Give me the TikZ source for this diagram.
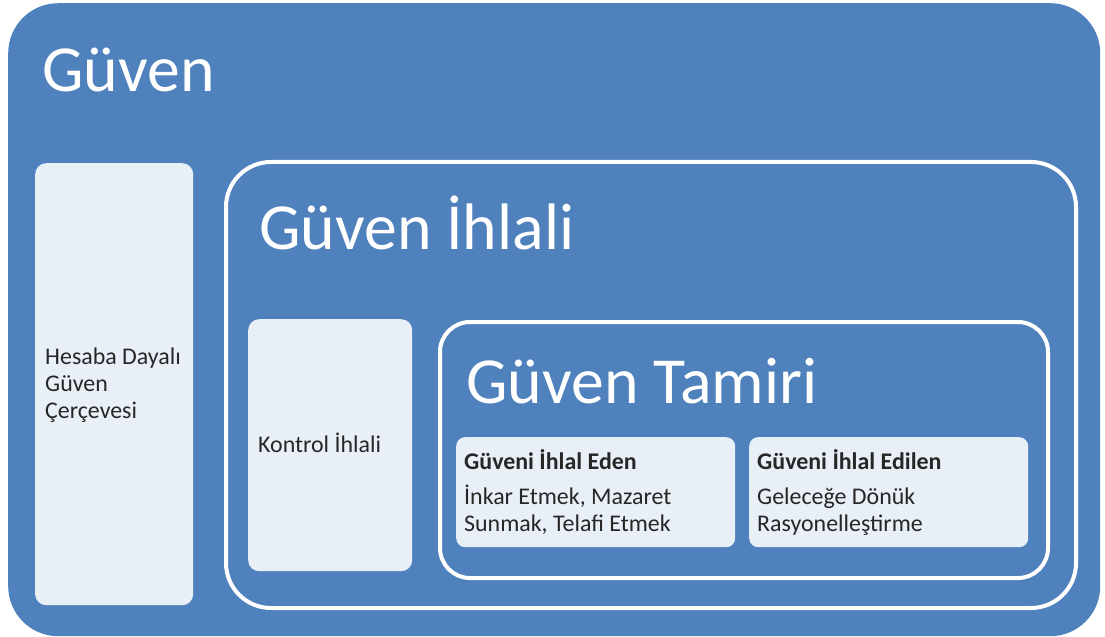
\documentclass[tikz,border=0pt]{standalone}
\usepackage{fontspec}
\setmainfont{Carlito}
\definecolor{obluE}{HTML}{4F81BD}
\definecolor{paleF}{RGB}{233,239,247}
\definecolor{txtC}{HTML}{262626}
\begin{document}
\begin{tikzpicture}[x=1bp,y=-1bp,
  outerbox/.style={fill=obluE, draw=none, rounded corners=50bp, minimum width=1092bp, minimum height=633bp, anchor=north west, inner sep=0},
  framebox/.style={draw=white, line width=4bp, fill=obluE, anchor=north west, inner sep=0},
  palebox/.style={fill=paleF, draw=none, rounded corners=11bp, anchor=north west, inner sep=0},
  bigtitle/.style={text=white, font=\fontsize{66}{72}\selectfont, anchor=base west, inner sep=0},
  smalltxt/.style={text=txtC, font=\fontsize{24}{27}\selectfont, anchor=base west, inner sep=0, align=left},
  boldtxt/.style={text=txtC, font=\fontsize{24}{27}\selectfont\bfseries, anchor=base west, inner sep=0}
]
\useasboundingbox (0,0) rectangle (1105,637);
\node[outerbox] (guven) at (8,3) {};
\node[bigtitle] (guvenT) at (42,92) {Güven};
\node[palebox, minimum width=158bp, minimum height=442bp] (hesap) at (35,163) {};
\node[smalltxt] (hesapT) at (45,418) {Hesaba Dayalı\\Güven\\Çerçevesi};
\node[framebox, rounded corners=45bp, minimum width=850bp, minimum height=446bp] (ihlal) at (224,160) {};
\node[bigtitle] (ihlalT) at (259,250) {Güven İhlali};
\node[palebox, minimum width=164bp, minimum height=252bp] (kontrol) at (248,319) {};
\node[smalltxt] (kontrolT) at (258,452) {Kontrol İhlali};
\node[framebox, rounded corners=30bp, minimum width=608bp, minimum height=256bp] (tamir) at (438,320) {};
\node[bigtitle] (tamirT) at (466,403) {Güven Tamiri};
\node[palebox, rounded corners=9bp, minimum width=279bp, minimum height=110bp] (eden) at (456,437) {};
\node[boldtxt] (edenT) at (464,469) {Güveni İhlal Eden};
\node[smalltxt] (edenB) at (464,531) {İnkar Etmek, Mazaret\\Sunmak, Telafi Etmek};
\node[palebox, rounded corners=9bp, minimum width=279bp, minimum height=110bp] (edilen) at (749,437) {};
\node[boldtxt] (edilenT) at (757,469) {Güveni İhlal Edilen};
\node[smalltxt] (edilenB) at (757,531) {Geleceğe Dönük\\Rasyonelleştirme};
\end{tikzpicture}
\end{document}
